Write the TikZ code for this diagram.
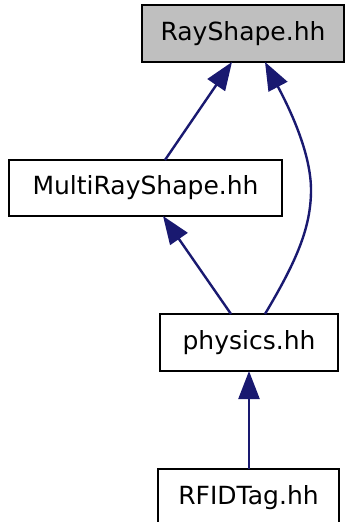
\documentclass[tikz,border=0pt]{standalone}
\usepackage{fontspec}
\setmainfont{DejaVu Sans}
\usetikzlibrary{arrows.meta}
\definecolor{edgeblue}{HTML}{191970}
\definecolor{hdrgray}{HTML}{BFBFBF}
\tikzset{
  filebox/.style={draw=black, line width=2.4pt, inner sep=0pt, outer sep=0pt,
    font=\fontsize{25}{30}\selectfont, text=black},
  dep/.style={draw=edgeblue, line width=2.4pt,
    -{Triangle[length=28pt,width=21pt]}, edgeblue}
}
\begin{document}
\begin{tikzpicture}[x=1pt,y=-1pt]
\useasboundingbox (0,0) rectangle (348,522);
\clip (0,0) rectangle (348,522);
\node[filebox, fill=hdrgray, minimum width=202pt, minimum height=57pt] (ray) at (243,33.5) {RayShape.hh};
\node[filebox, fill=white, minimum width=273pt, minimum height=56pt] (mrs) at (145.5,188) {MultiRayShape.hh};
\node[filebox, fill=white, minimum width=178pt, minimum height=57pt] (phys) at (249,342.5) {physics.hh};
\node[filebox, fill=white, minimum width=181pt, minimum height=57pt] (rfid) at (248.5,497.5) {RFIDTag.hh};
\draw[dep] ([xshift=19.5pt]mrs.north) -- ([xshift=-11pt]ray.south);
\draw[dep] ([xshift=16pt]phys.north) .. controls (296,262) and (311,228) .. (311,190)
  .. controls (311,150) and (286,102) .. ([xshift=22pt]ray.south);
\draw[dep] ([xshift=-18pt]phys.north) -- ([xshift=17.5pt]mrs.south);
\draw[dep] ([xshift=0.5pt]rfid.north) -- (phys.south);
\end{tikzpicture}
\end{document}
